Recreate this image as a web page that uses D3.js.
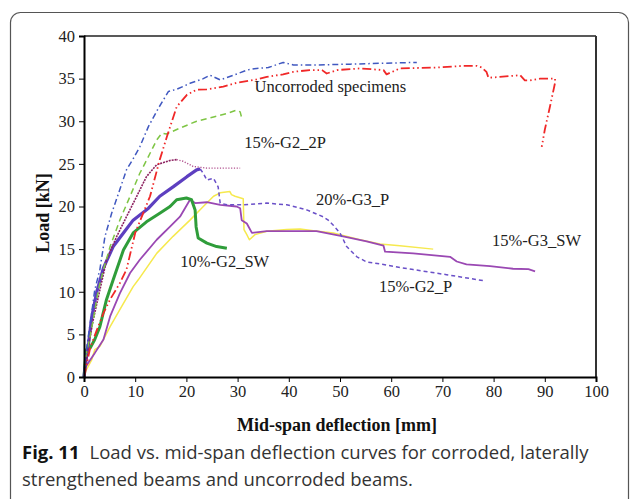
<!DOCTYPE html>
<html><head><meta charset="utf-8">
<script src="https://cdn.jsdelivr.net/npm/d3@7"></script>
<style>
html,body{margin:0;padding:0;background:#fff;}
svg{display:block;}
</style></head>
<body>
<svg id="chart" width="630" height="499"></svg>
<script>
// ---- data (deflection mm, load kN) ----
const xTicks = [0,10,20,30,40,50,60,70,80,90,100];
const yTicks = [0,5,10,15,20,25,30,35,40];

const uncorrodedBlue = [[0,0],[0.2,2],[0.85,4.8],[1.5,7.5],[2.1,10.2],[3.1,12.6],[4.1,16.5],[5.4,19.2],[7,22],[8.3,24.3],[9.6,25.6],[10.9,27],[12.6,29.4],[14.5,31.5],[16.5,33.5],[18.1,33.75],[20.7,34.45],[23.3,35],[24.6,35.4],[26.6,34.85],[29.2,35.4],[31.8,36],[33.7,36.2],[36,36.3],[38.9,36.9],[40.9,36.6],[45,36.6],[52,36.7],[58,36.8],[65,36.9]];
const uncorrodedRed = [[0,0],[1.2,3.4],[2.5,5.5],[3.8,7.5],[5.1,9.1],[7,11],[8.3,12.6],[10,16.9],[12.9,21.2],[14.8,25.5],[16.2,28.2],[18.1,31.7],[20.1,33.1],[22,33.7],[24,33.75],[27.2,34.05],[29.8,34.5],[33.7,34.9],[35.7,35.2],[38.9,35.5],[40.9,35.8],[44.1,36],[46.5,36],[47.4,35.6],[49.4,36],[53.9,36.2],[58.5,36],[59.1,35.5],[61.7,36.2],[68.9,36.3],[74.1,36.5],[76.7,36.5],[77.7,36.3],[78.6,35.8],[79,35.1],[81.2,35.2],[85.2,35.4],[86.1,34.8],[87.1,34.8],[89.1,35],[92,35],[92,34.5],[91,31.7],[90,29],[89.4,27]];
const g2_2P_dashedGreen = [[0,0],[0.2,2],[1.2,4.8],[1.8,6.7],[2.8,10.2],[3.8,12.6],[5.1,15.3],[7,18.4],[9,21.2],[10.9,23.9],[12.2,25.4],[13.2,26.6],[14.2,27.8],[15.2,28.6],[16.1,28.5],[18.75,29.2],[22,30],[25.3,30.5],[27.9,30.9],[29.8,31.3],[30.5,31.1],[30.8,30.4]];
const g2_2P_dark = [[0,0],[0.85,3.6],[1.8,6.7],[2.8,9.4],[4.4,13.7],[6.4,16.5],[8.3,18.8],[10.3,21.2],[12.2,23.5],[14.2,24.9],[16.8,25.4],[18.1,25.5]];
const g2_2P_tail = [[18.1,25.5],[19.4,25.3],[21.3,24.7],[24,24.5],[27.2,24.5],[30.5,24.5]];
const g2_P_thick = [[0,0],[0.4,2],[0.9,4],[1.5,7],[2.5,10],[3.8,12.8],[5.7,15.3],[7.7,16.9],[9.6,18.4],[12.6,19.8],[14.8,21.2],[17.4,22.3],[20.1,23.5],[22,24.3],[22.7,24.4]];
const g2_P_tail = [[22.7,24.4],[23.3,23.9],[24,23.1],[25.3,23.3],[26.2,22.3],[26.6,20.4],[27.9,20.2],[31.1,20.2],[35.7,20.4],[39.6,20.2],[43.5,19.6],[46.7,18.8],[47.7,18.4],[48.7,17.8],[50,16.9],[51.3,15.3],[53.3,14.1],[55.2,13.5],[58.5,13.2],[61.7,12.85],[64.3,12.6],[70.8,12],[78,11.3]];
const g2_SW_green = [[0,0],[0.2,1.6],[0.5,3.2],[1.2,3.4],[2.1,4.4],[3.1,5.9],[4.4,9.1],[5.7,11.4],[7.7,14.9],[9.6,16.9],[12.2,18.2],[14.8,19.2],[16.8,20],[18.1,20.8],[20,21],[21,20.8],[21.7,19.6],[21.9,17.6],[22.3,16.3],[24,15.7],[25.9,15.3],[27.9,15.1]];
const g3_SW_violet = [[0,0],[0,0.9],[1.2,2],[2.1,2.8],[3.8,4.4],[5.1,7.1],[7,9.8],[9,12.2],[10.9,13.75],[14.2,16.1],[16.8,17.65],[18.75,18.8],[20.7,20.8],[21.7,20.4],[24,20.5],[26.6,20.2],[29.8,20],[30.5,19.8],[30.8,18.4],[31.8,18],[32.8,16.9],[35.7,17.1],[40.9,17.1],[45.4,17.1],[50.6,16.5],[55.2,15.9],[58.5,15.4],[58.8,14.7],[64.3,14.5],[71.5,14.1],[72.8,13.55],[74.7,13.2],[79.3,13],[83.8,12.7],[86.8,12.65],[88.1,12.4]];
const g3_P_yellow = [[0,0],[0.5,0.9],[1.5,2],[2.1,3.2],[3.1,3.6],[5.1,5.9],[7,7.9],[9.6,10.6],[10.6,11.4],[14.2,14.5],[17.4,16.5],[20.7,18.4],[23.3,20],[25.3,21.2],[26.6,21.6],[28.5,21.75],[28.8,21.4],[29.5,21.2],[31.1,20.9],[31.25,17.3],[31.8,16.7],[32.3,16.1],[33.4,16.7],[35.7,17.1],[39.6,17.3],[42.2,17.35],[44.8,17.15],[48.7,16.9],[50.6,16.6],[53.9,16.1],[57.8,15.6],[61.7,15.4],[68.2,15]];

const labels = [
  {t:"Uncorroded specimens", x:33.3, y:33.4},
  {t:"15%-G2_2P", x:31.3, y:26.9},
  {t:"20%-G3_P", x:45.3, y:20.2},
  {t:"15%-G3_SW", x:79.7, y:15.4},
  {t:"15%-G2_P", x:57.6, y:10.0},
  {t:"10%-G2_SW", x:18.8, y:12.9}
];

// ---- drawing ----
const svg = d3.select("#chart");
// figure border
svg.append("rect").attr("x",10.5).attr("y",12.5).attr("width",618).attr("height",500)
  .attr("rx",10).attr("fill","none").attr("stroke","#555").attr("stroke-width",1.2);

const x = d3.scaleLinear().domain([0,100]).range([84,596]);
const y = d3.scaleLinear().domain([0,40]).range([377,36]);

const serif = "'Liberation Serif','Times New Roman',serif";

// frame top/right
svg.append("line").attr("x1",84).attr("x2",x(100)).attr("y1",y(40)).attr("y2",y(40)).attr("stroke","#222").attr("stroke-width",1.5);
svg.append("line").attr("x1",x(100)).attr("x2",x(100)).attr("y1",y(40)).attr("y2",y(0)).attr("stroke","#333").attr("stroke-width",2);

const line = d3.line().x(d=>x(d[0])).y(d=>y(d[1]));
function draw(data, color, width, dash){
  svg.append("path").datum(data).attr("d",line).attr("fill","none")
    .attr("stroke",color).attr("stroke-width",width)
    .attr("stroke-linejoin","round")
    .attr("stroke-dasharray",dash||null);
}
draw(g3_P_yellow, "#f6e94e", 1.5);
draw(g3_SW_violet, "#9a48b3", 1.8);
draw(g2_SW_green, "#2f9d3a", 3);
draw(g2_P_tail, "#6a50c8", 1.5, "4,3");
draw(g2_P_thick, "#5d3fc0", 3.2);
draw(g2_2P_dark, "#8c2160", 1.6, "2,1");
draw(g2_2P_tail, "#b0508e", 1.4, "1.2,1.6");
draw(g2_2P_dashedGreen, "#7ec544", 1.5, "6,4");
draw(uncorrodedRed, "#f02828", 1.8, "9,3,1.5,3,1.5,3");
draw(uncorrodedBlue, "#4058c0", 1.5, "6,3,1.5,3");

// axes
const ya = svg.append("g").attr("transform","translate(84,0)")
  .call(d3.axisLeft(y).tickValues(yTicks).tickSize(5).tickPadding(4).tickFormat(d3.format("d")));
const xa = svg.append("g").attr("transform",`translate(0,${y(0)})`)
  .call(d3.axisBottom(x).tickValues(xTicks).tickSize(5).tickPadding(3).tickFormat(d3.format("d")));
[ya,xa].forEach(g=>{
  g.select(".domain").attr("stroke","#000").attr("stroke-width",2);
  g.selectAll(".tick line").attr("stroke","#000").attr("stroke-width",1);
  g.selectAll("text").attr("font-family",serif).attr("font-size",16.5).attr("fill","#222");
});

// curve labels
svg.append("g").selectAll("text").data(labels).join("text")
  .attr("x",d=>x(d.x)).attr("y",d=>y(d.y)).text(d=>d.t)
  .attr("font-family",serif).attr("font-size",16.5).attr("fill","#222");

// axis titles
svg.append("text").attr("transform","translate(49,213) rotate(-90)").attr("text-anchor","middle")
  .attr("font-family",serif).attr("font-size",18).attr("font-weight","bold").attr("fill","#111").text("Load [kN]");
svg.append("text").attr("x",337).attr("y",431).attr("text-anchor","middle")
  .attr("font-family",serif).attr("font-size",18).attr("font-weight","bold").attr("fill","#111").text("Mid-span deflection [mm]");

// caption
const sans = "'Open Sans','Noto Sans',sans-serif";
const cap1 = svg.append("text").attr("x",22).attr("y",459).attr("font-family",sans).attr("font-size",18.5).attr("fill","#333");
cap1.append("tspan").attr("font-weight","bold").attr("fill","#111").text("Fig. 11");
cap1.append("tspan").attr("dx",10).text("Load vs. mid-span deflection curves for corroded, laterally");
svg.append("text").attr("x",22).attr("y",486).attr("font-family",sans).attr("font-size",18.5).attr("fill","#333")
  .text("strengthened beams and uncorroded beams.");
</script>
</body></html>
